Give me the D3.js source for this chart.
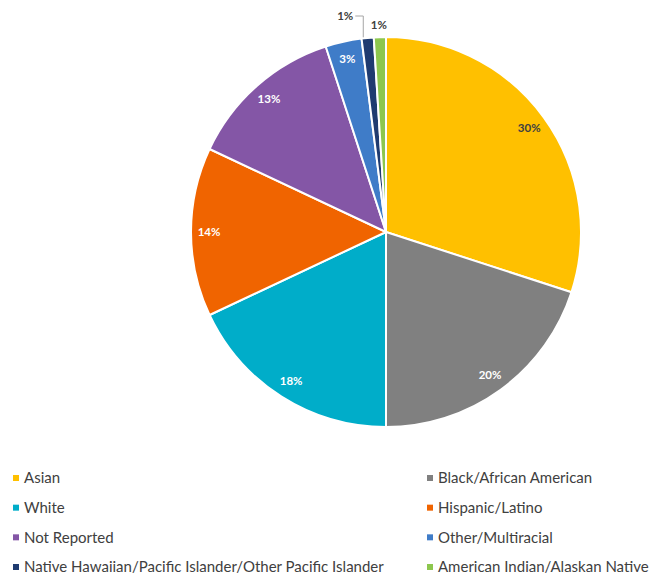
<!DOCTYPE html>
<html>
<head>
<meta charset="utf-8">
<script src="https://cdn.jsdelivr.net/npm/d3@7"></script>
<style>
  html, body { margin: 0; padding: 0; background: #fff; }
  svg { display: block; }
</style>
</head>
<body>
<svg id="chart" width="655" height="577"></svg>
<script>
// Share of respondents by race / ethnicity (percent)
const categories = [
  "Asian",
  "Black/African American",
  "White",
  "Hispanic/Latino",
  "Not Reported",
  "Other/Multiracial",
  "Native Hawaiian/Pacific Islander/Other Pacific Islander",
  "American Indian/Alaskan Native"
];
const values = [30, 20, 18, 14, 13, 3, 1, 1];
const colors = ["#FFC000", "#808080", "#00ADC9", "#F06400", "#8456A6", "#3F7CC8", "#1F3B70", "#8DC74E"];
const labelColors = ["#404040", "#fff", "#fff", "#fff", "#fff", "#fff", "#404040", "#404040"];

const data = categories.map((c, i) => ({ name: c, value: values[i], color: colors[i], lc: labelColors[i] }));

const svg = d3.select("#chart");
const cx = 386, cy = 232, R = 195;
const font = "Lato, 'Open Sans', sans-serif";

const pie = d3.pie().value(d => d.value).sort(null);
const arcs = pie(data);
const arc = d3.arc().innerRadius(0).outerRadius(R);
const labelArc = d3.arc().innerRadius(177).outerRadius(177);

const g = svg.append("g").attr("transform", `translate(${cx},${cy})`);

g.selectAll("path.slice")
  .data(arcs)
  .join("path")
  .attr("class", "slice")
  .attr("d", arc)
  .attr("fill", d => d.data.color)
  .attr("stroke", "#fff")
  .attr("stroke-width", 2)
  .attr("stroke-linejoin", "round");

// in-slice percentage labels for the larger slices
g.selectAll("text.inner")
  .data(arcs.filter(d => d.data.value >= 3))
  .join("text")
  .attr("class", "inner")
  .attr("transform", d => `translate(${labelArc.centroid(d)})`)
  .attr("text-anchor", "middle")
  .attr("dy", "0.35em")
  .attr("font-family", font)
  .attr("font-size", 11.5)
  .attr("font-weight", "bold")
  .attr("fill", d => d.data.lc)
  .text(d => d.data.value + "%");

// outside labels for the two thinnest slices
const small = arcs.filter(d => d.data.value < 3);
const edge = d3.arc().innerRadius(R + 2).outerRadius(R + 2);

// Native Hawaiian: label up-left with a leader line
{
  const d = small[0];
  const a = d.startAngle + (d.endAngle - d.startAngle) * 0.15;
  const p = [Math.sin(a) * (R + 1), -Math.cos(a) * (R + 1)];
  const lx = p[0], ly = -216;
  g.append("polyline")
    .attr("points", [[lx - 8, ly], [lx, ly], p].map(q => q.join(",")).join(" "))
    .attr("fill", "none")
    .attr("stroke", "#A6A6A6")
    .attr("stroke-width", 1);
  g.append("text")
    .attr("x", lx - 10).attr("y", ly)
    .attr("dy", "0.35em")
    .attr("text-anchor", "end")
    .attr("font-family", font)
    .attr("font-size", 11.5)
    .attr("font-weight", "bold")
    .attr("fill", "#404040")
    .text(d.data.value + "%");
}
// American Indian: label just above the slice
{
  const d = small[1];
  const c = edge.centroid(d);
  g.append("text")
    .attr("x", c[0] - 1).attr("y", -207)
    .attr("dy", "0.35em")
    .attr("text-anchor", "middle")
    .attr("font-family", font)
    .attr("font-size", 11.5)
    .attr("font-weight", "bold")
    .attr("fill", "#404040")
    .text(d.data.value + "%");
}

// Legend: two columns, four rows
const col = d3.scaleOrdinal().domain([0, 1]).range([13, 427]);
const row = d3.scalePoint().domain([0, 1, 2, 3]).range([478, 567]);

const items = svg.append("g").selectAll("g.item")
  .data(data)
  .join("g")
  .attr("class", "item")
  .attr("transform", (d, i) => `translate(${col(i % 2)},${row(Math.floor(i / 2))})`);

items.append("rect")
  .attr("x", 0).attr("y", -3)
  .attr("width", 6).attr("height", 6)
  .attr("fill", d => d.color);

items.append("text")
  .attr("x", 11)
  .attr("dy", "0.36em")
  .attr("font-family", font)
  .attr("font-size", 15)
  .attr("fill", "#404040")
  .text(d => d.name);
</script>
</body>
</html>
